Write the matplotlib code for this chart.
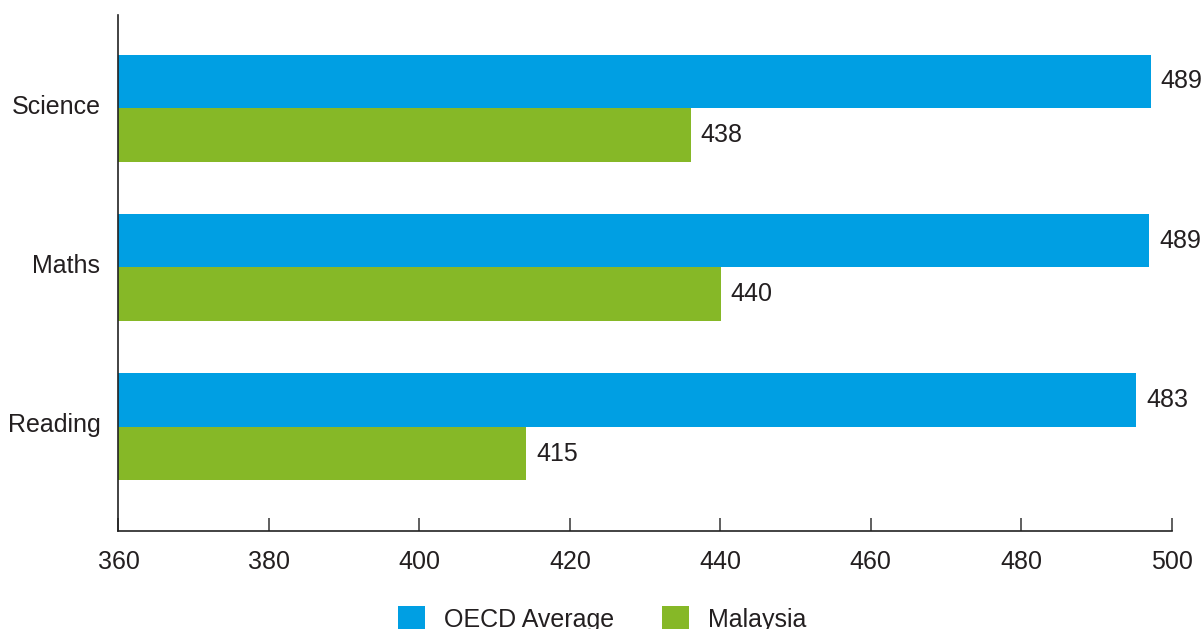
import matplotlib
matplotlib.use('Agg')
import numpy as np
import matplotlib.pyplot as plt
from matplotlib.patches import Patch

# subjects, top to bottom in the chart
subjects = ['Science', 'Maths', 'Reading']
series_names = ['OECD Average', 'Malaysia']

# bar extents as drawn in the source graphic
oecd_bars = [497.2, 497.0, 495.3]
malaysia_bars = [436.1, 440.1, 414.2]

# scores printed next to the bars
oecd_scores = [489, 489, 483]
malaysia_scores = [438, 440, 415]

xticks = [360, 380, 400, 420, 440, 460, 480, 500]

blue = '#009fe3'
green = '#86b827'
ink = '#231f20'

plt.rcParams['font.family'] = ['Liberation Sans', 'DejaVu Sans']

fig = plt.figure(figsize=(12.03, 6.29), dpi=100)
ax = fig.add_axes([0.0985, 0.156, 0.8755, 0.820])

ypos = np.arange(len(subjects))[::-1].astype(float)
h = 0.337

xmin = 360
b1 = ax.barh(ypos + h / 2, np.array(oecd_bars) - xmin, left=xmin, height=h,
             color=blue, linewidth=0)
b2 = ax.barh(ypos - h / 2, np.array(malaysia_bars) - xmin, left=xmin, height=h,
             color=green, linewidth=0)

for bars, scores in ((b1, oecd_scores), (b2, malaysia_scores)):
  for bar, s in zip(bars, scores):
    ax.annotate(str(s), xy=(bar.get_x() + bar.get_width(), bar.get_y() + bar.get_height() / 2),
                xytext=(7, 0), textcoords='offset points', ha='left', va='center',
                fontsize=18, color=ink, clip_on=False)

ax.set_xlim(360, 500)
ax.set_ylim(-0.654, 2.585)
ax.set_xticks(xticks)
ax.set_xticklabels([str(t) for t in xticks])
# the subject names sit a touch above the group centre in the source
ax.set_yticks(ypos + 0.025)
ax.set_yticklabels(subjects)

ax.tick_params(axis='x', direction='in', length=9.5, width=1.2, color='#444444',
               pad=14, labelsize=18, labelcolor=ink)
ax.tick_params(axis='y', length=0, pad=13, labelsize=18, labelcolor=ink)

for side in ('top', 'right'):
  ax.spines[side].set_visible(False)
for side in ('left', 'bottom'):
  ax.spines[side].set_linewidth(1.2)
  ax.spines[side].set_color('#222222')

handles = [Patch(facecolor=blue, linewidth=0), Patch(facecolor=green, linewidth=0)]
fig.legend(handles, series_names, loc='upper left', bbox_to_anchor=(0.3225, 0.052),
           ncol=2, frameon=False, fontsize=18, handlelength=1.1, handleheight=1.1,
           handletextpad=0.75, columnspacing=1.9, borderaxespad=0, labelcolor=ink)

fig.savefig('out.png', dpi=100)
